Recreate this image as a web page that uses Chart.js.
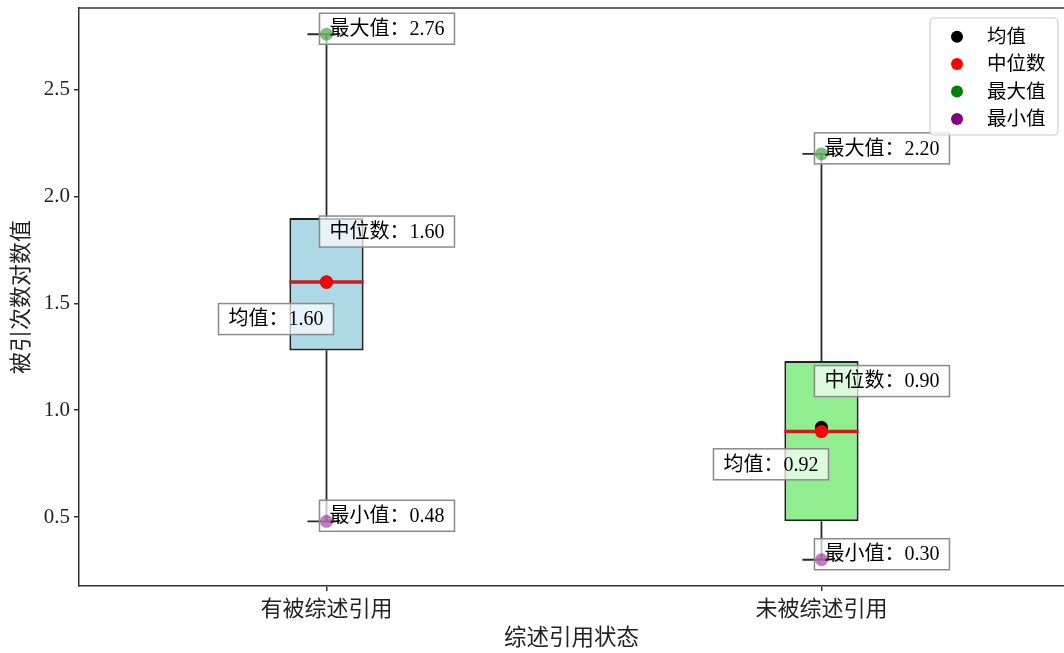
<!DOCTYPE html>
<html>
<head>
<meta charset="utf-8">
<script src="https://cdn.jsdelivr.net/npm/chart.js@4.4.1/dist/chart.umd.min.js"></script>
<style>
  html, body { margin: 0; padding: 0; background: #fff; }
  #wrap { width: 1064px; height: 653px; position: relative; }
</style>
</head>
<body>
<div id="wrap"><canvas id="c" width="1064" height="653"></canvas></div>
<script>
// ---- data ----
const categories = ['有被综述引用', '未被综述引用'];
const q1Values = [1.28, 0.48];
const q3Values = [1.90, 1.23];
const medianValues = [1.60, 0.90];
const meanValues = [1.60, 0.92];
const maxValues = [2.76, 2.20];
const minValues = [0.48, 0.30];
const yTickValues = [0.5, 1.0, 1.5, 2.0, 2.5];
const legendLabels = ['均值', '中位数', '最大值', '最小值'];
const xTitle = '综述引用状态';
const yTitle = '被引次数对数值';

// ---- style ----
const boxColors = ['#add8e6', '#90ee90'];
const boxWidth = 0.15;      // in category units
const capHalf = 0.0385;     // in category units
const axisColor = '#333333';
const serif = '"Liberation Serif", "Times New Roman", "Noto Sans CJK SC", serif';
const cjk = '"Liberation Serif", "Noto Sans CJK SC", sans-serif';

const idx = categories.map((_, i) => i);

const datasets = [];
// boxes (floating bars)
datasets.push({
  type: 'bar',
  data: idx.map(i => ({ x: i, y: [q1Values[i], q3Values[i]] })),
  backgroundColor: boxColors,
  borderColor: '#222',
  borderWidth: 2,
  borderSkipped: false,
  barPercentage: boxWidth,
  categoryPercentage: 1.0,
  order: 50
});
// whiskers and caps
idx.forEach(i => {
  const lineStyle = { type: 'line', borderColor: '#2a2a2a', borderWidth: 1.8, pointRadius: 0, fill: false, order: 40 };
  datasets.push(Object.assign({ data: [{ x: i, y: minValues[i] }, { x: i, y: q1Values[i] }] }, lineStyle));
  datasets.push(Object.assign({ data: [{ x: i, y: q3Values[i] }, { x: i, y: maxValues[i] }] }, lineStyle));
  datasets.push(Object.assign({ data: [{ x: i - capHalf, y: minValues[i] }, { x: i + capHalf, y: minValues[i] }] }, lineStyle));
  datasets.push(Object.assign({ data: [{ x: i - capHalf, y: maxValues[i] }, { x: i + capHalf, y: maxValues[i] }] }, lineStyle));
  // median line
  datasets.push({
    type: 'line', borderColor: '#c81e1e', borderWidth: 3.5, pointRadius: 0, fill: false, order: 30,
    data: [{ x: i - boxWidth / 2, y: medianValues[i] }, { x: i + boxWidth / 2, y: medianValues[i] }]
  });
});
// stat points
const pt = (vals, color, order) => ({
  type: 'scatter',
  data: idx.map(i => ({ x: i, y: vals[i] })),
  backgroundColor: color, borderWidth: 0, pointRadius: 6.5, pointHoverRadius: 6.5, order
});
datasets.push(pt(maxValues, 'rgba(0,128,0,0.5)', 20));
datasets.push(pt(minValues, 'rgba(128,0,128,0.5)', 20));
datasets.push(pt(meanValues, '#000000', 11));
datasets.push(pt(medianValues, '#ff0000', 10));

// ---- annotation & frame plugin ----
function drawAnnotations(chart) {
  const { ctx, scales: { x, y } } = chart;
  ctx.save();
  ctx.font = '20px ' + cjk;
  ctx.textBaseline = 'middle';
  const padX = 10, boxH = 31;
  const drawLabel = (text, ax, ay, dx, dy, align) => {
    const w = ctx.measureText(text).width;
    const cy = ay + dy;
    const bw = w + 2 * padX;
    const left = align === 'left' ? ax + dx - padX : ax + dx + padX - bw;
    ctx.fillStyle = 'rgba(255,255,255,0.7)';
    ctx.fillRect(left, cy - boxH / 2, bw, boxH);
    ctx.strokeStyle = '#8a8a8a'; ctx.lineWidth = 1.5;
    ctx.strokeRect(left, cy - boxH / 2, bw, boxH);
    ctx.fillStyle = '#000';
    ctx.textAlign = 'left';
    ctx.fillText(text, left + padX, cy + 1);
  };
  idx.forEach(i => {
    const px = x.getPixelForValue(i);
    drawLabel('最大值：' + maxValues[i].toFixed(2), px, y.getPixelForValue(maxValues[i]), 3, -5.5, 'left');
    drawLabel('中位数：' + medianValues[i].toFixed(2), px, y.getPixelForValue(medianValues[i]), 3, -50.5, 'left');
    drawLabel('均值：' + meanValues[i].toFixed(2), px, y.getPixelForValue(meanValues[i]), -3, 37, 'right');
    drawLabel('最小值：' + minValues[i].toFixed(2), px, y.getPixelForValue(minValues[i]), 3, -5.5, 'left');
  });
  ctx.restore();
}

const annotPlugin = {
  id: 'annot',
  beforeDatasetsDraw(chart) { chart.$annotDone = false; },
  beforeDatasetDraw(chart, args) {
    if (!chart.$annotDone && args.meta.type === 'scatter') {
      drawAnnotations(chart);
      chart.$annotDone = true;
    }
  },
  afterDatasetsDraw(chart) {
    const { ctx, chartArea: ca } = chart;
    if (!chart.$annotDone) { drawAnnotations(chart); chart.$annotDone = true; }
    ctx.save();
    // top spine
    ctx.strokeStyle = axisColor; ctx.lineWidth = 1.5;
    ctx.beginPath(); ctx.moveTo(ca.left - 0.75, ca.top); ctx.lineTo(ca.right, ca.top); ctx.stroke();

    // legend
    const legColors = ['#000000', '#ff0000', '#008000', '#800080'];
    const lx = 930, ly = 18, lw = 128, lh = 117;
    ctx.fillStyle = 'rgba(255,255,255,0.8)';
    ctx.strokeStyle = '#cccccc'; ctx.lineWidth = 1.2;
    ctx.beginPath();
    if (ctx.roundRect) ctx.roundRect(lx, ly, lw, lh, 4); else ctx.rect(lx, ly, lw, lh);
    ctx.fill(); ctx.stroke();
    ctx.font = '19.5px ' + cjk;
    ctx.textBaseline = 'middle';
    ctx.textAlign = 'left';
    legendLabels.forEach((lab, k) => {
      const cy = 36.7 + k * 27.4;
      ctx.fillStyle = legColors[k];
      ctx.beginPath(); ctx.arc(957, cy, 6, 0, Math.PI * 2); ctx.fill();
      ctx.fillStyle = '#000';
      ctx.fillText(lab, 987, cy + 1);
    });
    ctx.restore();
  }
};

new Chart(document.getElementById('c'), {
  type: 'bar',
  data: { datasets },
  options: {
    responsive: false,
    animation: false,
    devicePixelRatio: 1,
    layout: { autoPadding: false, padding: { top: 8, left: 0, right: 0, bottom: 0 } },
    plugins: { legend: { display: false }, tooltip: { enabled: false } },
    scales: {
      x: {
        type: 'linear',
        min: -0.5, max: 1.49,
        offset: false,
        afterFit(s) { s.height = 67; s.paddingLeft = 0; s.paddingRight = 0; s.paddingTop = 0; s.paddingBottom = 0; },
        afterBuildTicks(s) { s.ticks = idx.map(v => ({ value: v })); },
        ticks: {
          autoSkip: false,
          callback: v => categories[v] !== undefined ? categories[v] : '',
          font: { family: cjk, size: 22 },
          color: '#222', padding: 6, maxRotation: 0
        },
        grid: { drawOnChartArea: false, offset: false, tickLength: 5, color: axisColor, lineWidth: 1.5 },
        border: { color: axisColor, width: 1.5 },
        title: { display: true, text: xTitle, font: { family: cjk, size: 22.5 }, color: '#222', padding: { top: 0, bottom: 0 } }
      },
      y: {
        type: 'linear',
        min: 0.177, max: 2.883,
        afterFit(s) { s.width = 79; s.paddingLeft = 0; s.paddingRight = 0; s.paddingTop = 0; s.paddingBottom = 0; },
        afterBuildTicks(s) { s.ticks = yTickValues.map(v => ({ value: v })); },
        ticks: {
          callback: v => Number(v).toFixed(1),
          font: { family: serif, size: 21 },
          color: '#222', padding: 4
        },
        grid: { drawOnChartArea: false, tickLength: 5, color: axisColor, lineWidth: 1.5 },
        border: { color: axisColor, width: 1.5 },
        title: { display: true, text: yTitle, font: { family: cjk, size: 22 }, color: '#222', padding: { top: 9, bottom: 0 } }
      }
    }
  },
  plugins: [annotPlugin]
});
</script>
</body>
</html>
